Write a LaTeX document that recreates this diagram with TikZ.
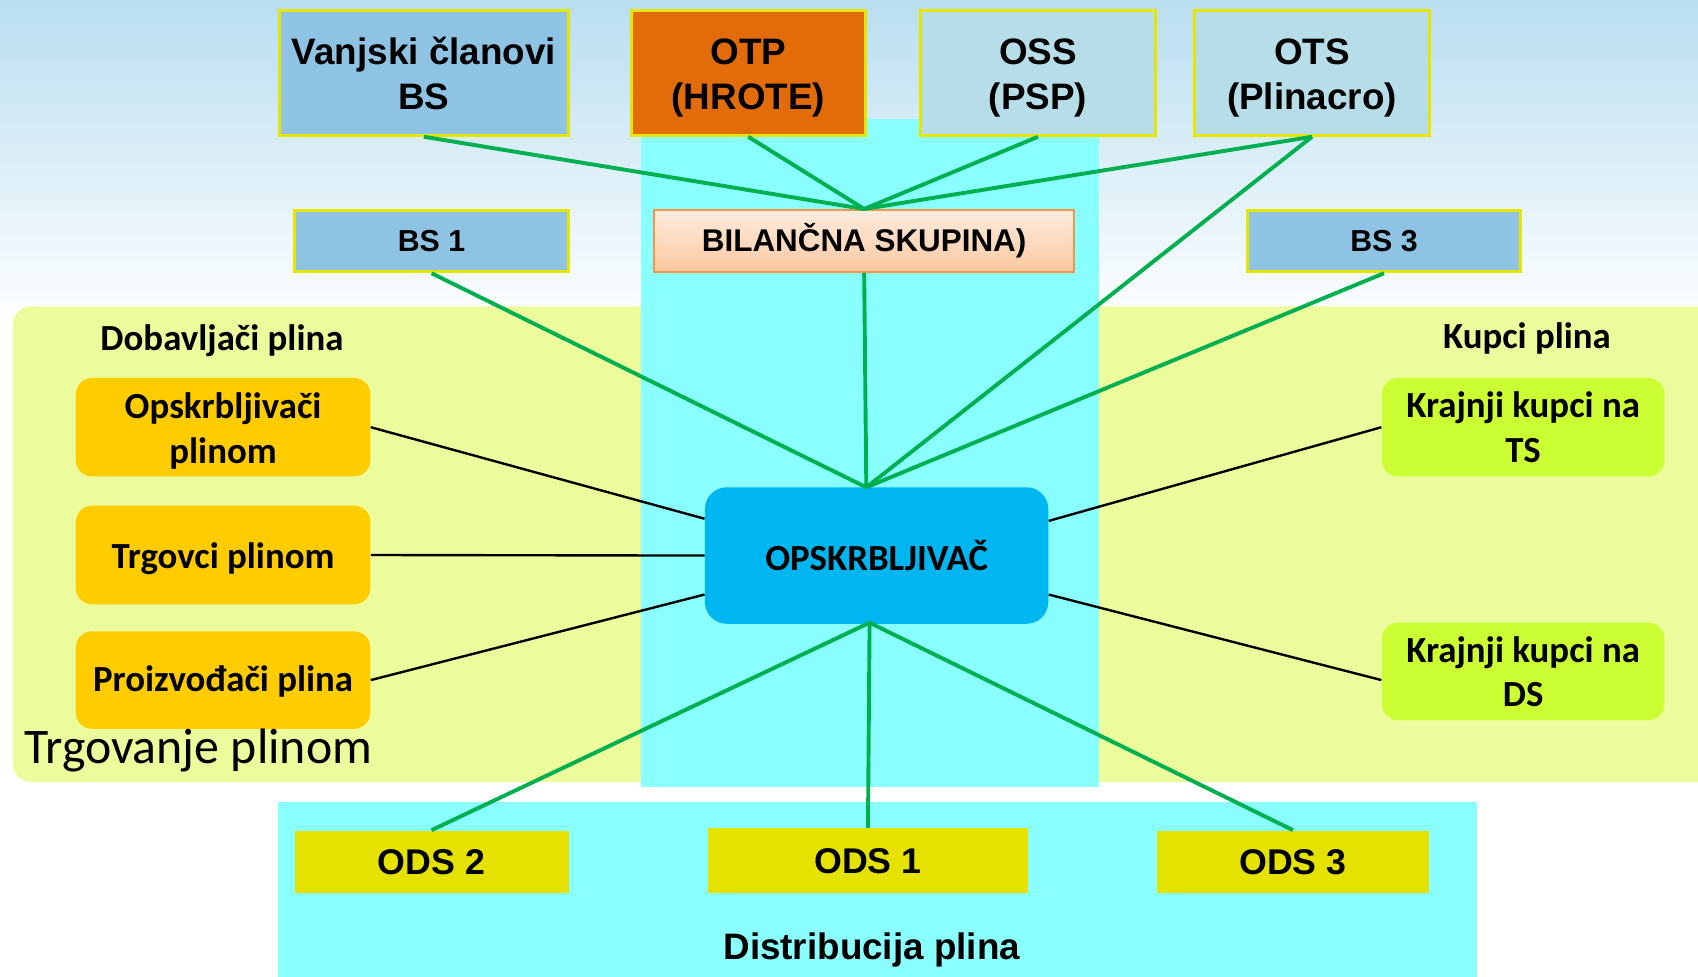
\documentclass[tikz,border=0pt]{standalone}
\usepackage{fontspec}
\setmainfont{Liberation Sans}
\newfontfamily\carl{Carlito}
\usetikzlibrary{calc}
\definecolor{sky}{RGB}{185,222,240}
\definecolor{lime}{RGB}{236,251,155}
\definecolor{cyanbg}{RGB}{138,255,255}
\definecolor{ybord}{RGB}{230,230,0}
\definecolor{steel}{RGB}{143,195,227}
\definecolor{paleblue}{RGB}{183,221,232}
\definecolor{otp}{RGB}{227,108,10}
\definecolor{peachA}{RGB}{253,236,222}
\definecolor{peachB}{RGB}{251,200,160}
\definecolor{peachD}{RGB}{247,150,70}
\definecolor{gold}{RGB}{255,204,0}
\definecolor{limebox}{RGB}{204,255,51}
\definecolor{opsk}{RGB}{0,182,240}
\definecolor{odsy}{RGB}{230,226,0}
\definecolor{gline}{RGB}{0,176,80}
\newcommand{\topstrut}{\rule{0pt}{16.3pt}}
\newcommand{\calstrut}{\rule{0pt}{15.5pt}}
\begin{document}
\begin{tikzpicture}[x=0.5pt,y=-0.5pt,
  topbox/.style={draw=ybord,line width=1.3pt,inner sep=0pt,align=center,
    font=\bfseries\fontsize{17}{20.8}\selectfont,minimum height=57.5pt},
  bsbox/.style={draw=ybord,line width=1.3pt,fill=steel,inner sep=0pt,
    minimum height=28.5pt,minimum width=126.5pt,font=\bfseries\fontsize{14}{16}\selectfont},
  roundbox/.style={rounded corners=7.5pt,inner sep=0pt,align=center,minimum height=45.5pt,
    font=\carl\bfseries\fontsize{17}{20.5}\selectfont},
  odsbox/.style={fill=odsy,inner sep=0pt,minimum height=29pt,
    font=\bfseries\fontsize{16.5}{19}\selectfont},
  gl/.style={draw=gline,line width=1.8pt},
  bl/.style={draw=black,line width=1.1pt},
  lbl/.style={inner sep=0pt,font=\carl\bfseries\fontsize{17}{20}\selectfont}
]
\useasboundingbox (0,0) rectangle (1568,902);
\fill[white] (0,0) rectangle (1568,902);
\shade[top color=sky, bottom color=white] (0,0) rectangle (1568,300);
% regions
\fill[lime, rounded corners=8pt] (12,283) rectangle (1600,722);
\fill[cyanbg] (592,110) rectangle (1015,727);
\fill[cyanbg] (257,741) rectangle (1364,920);

% top row
\node[topbox,fill=steel,minimum width=133.5pt] (vc) at (391.5,67.5) {Vanjski članovi\\BS};
\node[topbox,fill=otp,minimum width=108pt] (otp) at (691,67.5) {\topstrut OTP\\(HROTE)};
\node[topbox,fill=paleblue,minimum width=108.5pt] (oss) at (958.5,67.5) {\topstrut OSS\\(PSP)};
\node[topbox,fill=paleblue,minimum width=108.5pt] (ots) at (1211.5,67.5) {\topstrut OTS\\(Plinacro)};
% second row
\node[bsbox] (bs1) at (398.5,222.5) {BS 1};
\node[draw=peachD,line width=1pt,top color=peachA,bottom color=peachB,inner sep=0pt,
  minimum height=28.5pt,minimum width=194pt,font=\bfseries\fontsize{14.5}{16}\selectfont]
  (bil) at (798,222.5) {BILANČNA SKUPINA)};
\node[bsbox,minimum width=126pt] (bs3) at (1278,222.5) {BS 3};
% left boxes
\node[roundbox,fill=gold,minimum width=136pt] (o1) at (206,394.5) {\calstrut Opskrbljivači\\plinom};
\node[roundbox,fill=gold,minimum width=136pt,text height=13pt,text depth=0.7pt] (o2) at (206,512.5) {Trgovci plinom};
\node[roundbox,fill=gold,minimum width=136pt,minimum height=45pt,text height=12.8pt,text depth=2.5pt] (o3) at (206,628) {Proizvođači plina};
% right boxes
\node[roundbox,fill=limebox,minimum width=130.5pt] (kts) at (1406.5,394.5) {Krajnji kupci na\\TS};
\node[roundbox,fill=limebox,minimum width=130.5pt,minimum height=45pt] (kds) at (1406.5,620) {Krajnji kupci na\\DS};
% center
\node[fill=opsk,rounded corners=10pt,minimum width=158.5pt,minimum height=63pt,inner sep=0pt,
  font=\carl\bfseries\fontsize{17}{20}\selectfont] (op) at (809.5,513) {OPSKRBLJIVAČ};
% bottom
\node[odsbox,minimum width=126.5pt] (ods2) at (398.5,796) {ODS 2};
\node[odsbox,minimum width=147.5pt,minimum height=30pt] (ods1) at (801.5,795) {ODS 1};
\node[odsbox,minimum width=126pt] (ods3) at (1194,796) {ODS 3};
% labels
\node[lbl] (dob) at (205,315) {Dobavljači plina};
\node[lbl] (kup) at (1410,313) {Kupci plina};
\node[inner sep=0pt,font=\carl\fontsize{23}{26}\selectfont] (trg) at (183,693) {Trgovanje plinom};
\node[inner sep=0pt,font=\bfseries\fontsize{17}{20}\selectfont] (dis) at (805,877) {Distribucija plina};

\coordinate (hubT) at (800,450);
\coordinate (hubB) at (803,575);

% green connectors
\draw[gl] (vc.south) -- (bil.north);
\draw[gl] (otp.south) -- (bil.north);
\draw[gl] (oss.south) -- (bil.north);
\draw[gl] (ots.south) -- (bil.north);
\draw[gl] (ots.south) -- (hubT);
\draw[gl] (bs1.south) -- (hubT);
\draw[gl] (bil.south) -- (hubT);
\draw[gl] (bs3.south) -- (hubT);
\draw[gl] (hubB) -- (ods2.north);
\draw[gl] (hubB) -- (ods1.north);
\draw[gl] (hubB) -- (ods3.north);
% black connectors
\draw[bl] (o1.east) -- ($(op.west)+(0,-34)$);
\draw[bl] (o2.east) -- (op.west);
\draw[bl] (o3.east) -- ($(op.west)+(0,36)$);
\draw[bl] ($(op.east)+(0,-32)$) -- (kts.west);
\draw[bl] ($(op.east)+(0,36)$) -- ($(kds.west)+(0,8)$);
\end{tikzpicture}
\end{document}
